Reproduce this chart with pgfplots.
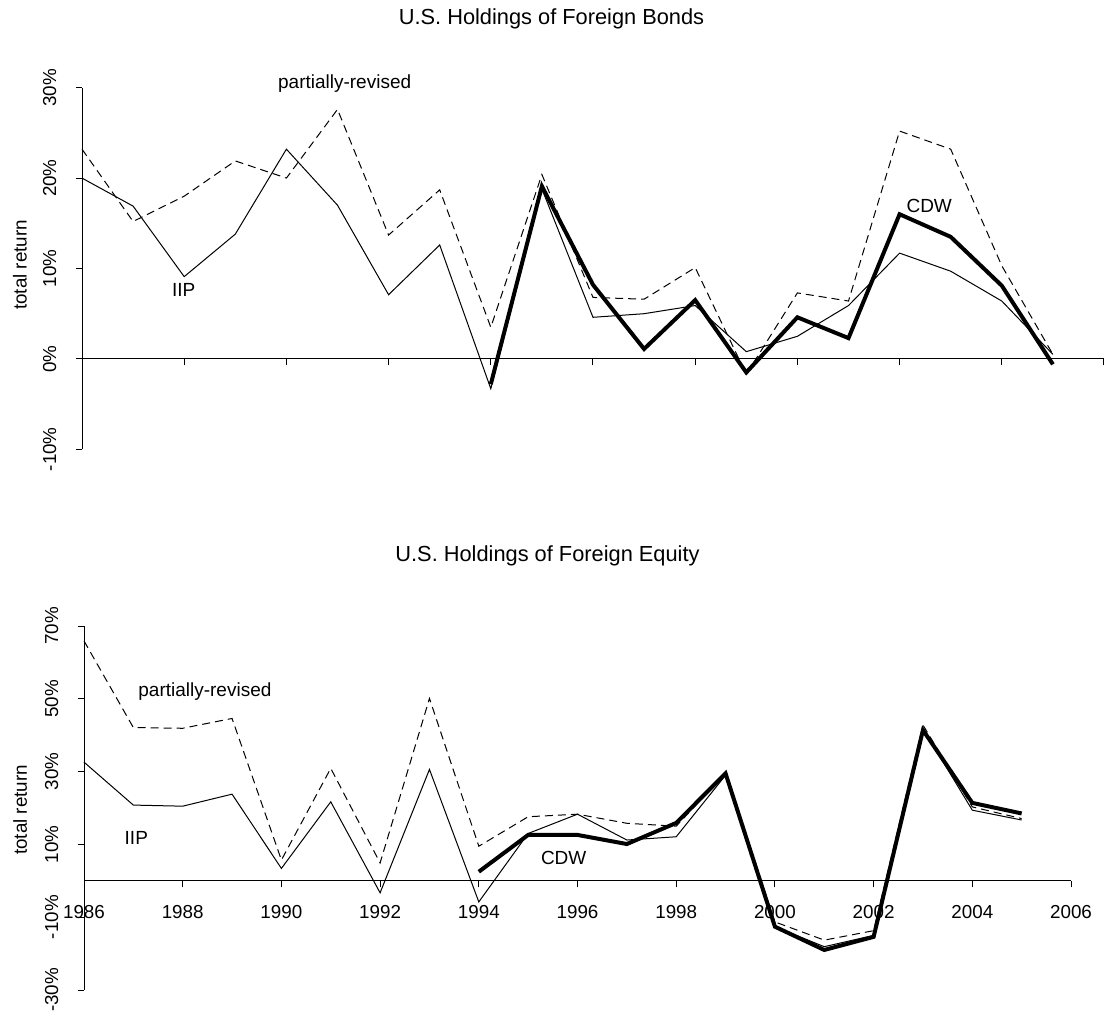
\documentclass[border=0pt]{standalone}
\usepackage{fontspec}
\setmainfont{Liberation Sans}
\usepackage{pgfplots}
\pgfplotsset{compat=1.18}
\begin{document}
\begin{tikzpicture}
\path[use as bounding box] (0pt,0pt) rectangle (1107pt,1015pt);
\tikzset{ann/.style={font=\fontsize{19}{22}\selectfont, anchor=base}}
\pgfplotsset{
  myax/.style={
    scale only axis,
    axis x line=middle, axis y line=left,
    axis line style={-, line width=1pt, black},
    tick align=outside, major tick length=6.5pt,
    tick style={line width=1pt, black},
    hide obscured x ticks=false, hide obscured y ticks=false,
    xmin=1986, xmax=2006,
    xtick={1986,1988,1990,1992,1994,1996,1998,2000,2002,2004,2006},
    clip=false,
    font=\fontsize{18.8}{22}\selectfont,
    yticklabel style={rotate=90, anchor=south, inner ysep=19pt},
    xticklabel style={anchor=north, inner ysep=17.5pt},
    ylabel={total return},
    no markers,
  },
  iip/.style={black, line width=1pt},
  rev/.style={black, line width=1pt, dash pattern=on 8pt off 5pt},
  cdw/.style={black, line width=4pt},
}
% ---------- Top: bonds ----------
\begin{axis}[myax,
  at={(82pt,565.7pt)}, anchor=south west,
  width=1022pt, height=361.6pt,
  ymin=-10, ymax=30,
  ytick={-10,0,10,20,30},
  yticklabels={-10\%,0\%,10\%,20\%,30\%},
  xticklabels={},
  ylabel style={at={(axis description cs:-0.0607,0.51)}, anchor=center},
]
\addplot[iip] coordinates {(1986,20.0)(1987,16.9)(1988,9.1)(1989,13.8)(1990,23.2)(1991,17.0)(1992,7.1)(1993,12.6)(1994,-3.3)(1995,18.8)(1996,4.6)(1997,5.0)(1998,5.9)(1999,0.8)(2000,2.5)(2001,5.9)(2002,11.7)(2003,9.7)(2004,6.4)(2005,0.5)};
\addplot[rev] coordinates {(1986,23.2)(1987,15.2)(1988,18.0)(1989,21.9)(1990,20.0)(1991,27.6)(1992,13.7)(1993,18.7)(1994,3.5)(1995,20.4)(1996,6.8)(1997,6.6)(1998,10.1)(1999,-1.7)(2000,7.3)(2001,6.4)(2002,25.2)(2003,23.2)(2004,10.3)(2005,0.5)};
\addplot[cdw] coordinates {(1994,-2.8)(1995,19.1)(1996,8.2)(1997,1.1)(1998,6.5)(1999,-1.5)(2000,4.6)(2001,2.3)(2002,16.0)(2003,13.5)(2004,8.1)(2005,-0.6)};
\node[ann] at (axis cs:1991.14,29.9) {partially-revised};
\node[ann] at (axis cs:1987.99,6.95) {IIP};
\node[ann] at (axis cs:2002.58,16.2) {CDW};
\end{axis}
% ---------- Bottom: equity ----------
\begin{axis}[myax,
  at={(84pt,25pt)}, anchor=south west,
  width=987pt, height=364pt,
  ymin=-30, ymax=70,
  ytick={-30,-10,10,30,50,70},
  yticklabels={-30\%,-10\%,10\%,30\%,50\%,70\%},
  xticklabels={1986,1988,1990,1992,1994,1996,1998,2000,2002,2004,2006},
  ylabel style={at={(axis description cs:-0.0648,0.495)}, anchor=center},
]
\addplot[iip] coordinates {(1986,32.6)(1987,20.8)(1988,20.5)(1989,23.8)(1990,3.4)(1991,21.7)(1992,-3.3)(1993,30.6)(1994,-5.8)(1995,13.0)(1996,18.3)(1997,11.2)(1998,12.1)(1999,29.0)(2000,-12.6)(2001,-18.1)(2002,-15.0)(2003,41.8)(2004,19.4)(2005,16.7)};
\addplot[rev] coordinates {(1986,65.9)(1987,42.1)(1988,41.9)(1989,44.6)(1990,5.7)(1991,30.9)(1992,4.9)(1993,50.1)(1994,9.5)(1995,17.6)(1996,18.3)(1997,15.8)(1998,15.0)(1999,29.5)(2000,-11.3)(2001,-16.3)(2002,-13.7)(2003,42.8)(2004,20.3)(2005,17.1)};
\addplot[cdw] coordinates {(1994,2.5)(1995,12.6)(1996,12.6)(1997,10.1)(1998,15.9)(1999,29.5)(2000,-12.6)(2001,-19.0)(2002,-15.4)(2003,41.4)(2004,21.4)(2005,18.5)};
\node[ann] at (axis cs:1988.45,50.5) {partially-revised};
\node[ann] at (axis cs:1987.06,9.9) {IIP};
\node[ann] at (axis cs:1995.72,4.4) {CDW};
\end{axis}
% ---------- Titles ----------
\node[font=\fontsize{21.8}{26}\selectfont, anchor=base] at (551.5pt,990pt) {U.S. Holdings of Foreign Bonds};
\node[font=\fontsize{21.8}{26}\selectfont, anchor=base] at (547.5pt,453pt) {U.S. Holdings of Foreign Equity};
\end{tikzpicture}
\end{document}
